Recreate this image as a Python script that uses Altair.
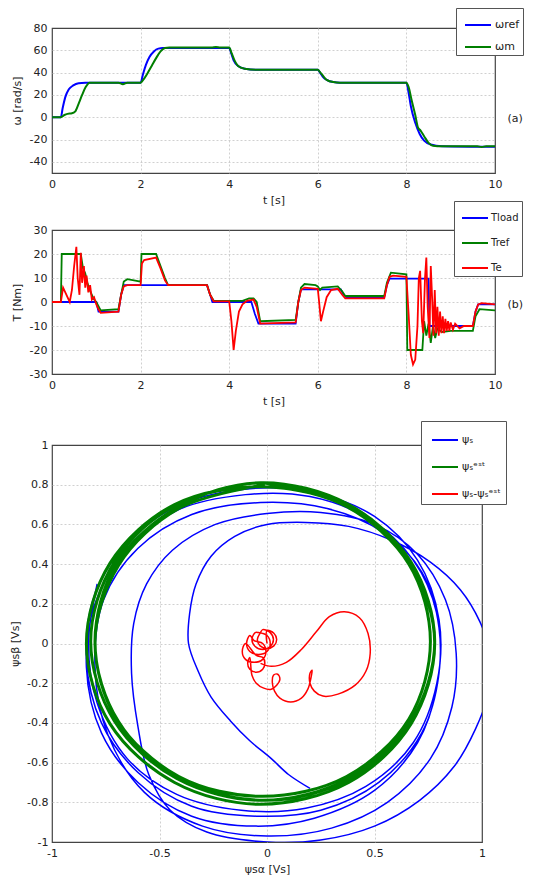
import altair as alt
import pandas as pd

FONT = "DejaVu Sans"
BLUE = "#0000ff"
GREEN = "#007f00"
RED = "#ff0000"
INK = "#222222"

# ---------------- panel (a): speed ----------------
wref_t = [0, 0.2, 0.24, 0.3, 0.38, 0.48, 0.6, 0.75, 2.0, 2.05, 2.12, 2.2, 2.3, 2.4, 2.5,
          4.0, 4.04, 4.1, 4.2, 4.35, 4.6, 6.0, 6.05, 6.12, 6.2, 6.35, 6.5,
          8.0, 8.05, 8.1, 8.2, 8.3, 8.4, 8.55, 8.8, 10]
wref_v = [0, 0, 8, 18, 25, 28.5, 30.5, 31, 31, 38, 47, 54, 59, 61.5, 62,
          62, 58, 51, 46, 43.5, 42.5, 42.5, 40, 36, 33.5, 31.5, 31,
          31, 22, 10, -5, -15, -21, -24.5, -26, -26.5]
wm_t = [0, 0.2, 0.28, 0.35, 0.45, 0.52, 0.6, 0.68, 0.76, 0.85, 1.5, 1.6, 1.7,
        2.0, 2.05, 2.15, 2.25, 2.35, 2.45, 2.55, 2.65, 3.6, 3.7, 3.8,
        4.0, 4.05, 4.12, 4.2, 4.35, 4.6, 6.0, 6.05, 6.12, 6.2, 6.35, 6.5,
        8.0, 8.05, 8.12, 8.2, 8.26, 8.32, 8.4, 8.5, 8.6, 8.8, 9.6, 9.7, 9.8, 10]
wm_v = [0, 0, 2, 3, 3.5, 5, 12, 20, 27, 31, 31, 29.5, 31,
        31, 33, 39, 46, 53, 59, 62, 62.5, 62.5, 63, 62.5,
        62.5, 58, 51, 46, 43.5, 42.5, 42.5, 40.5, 37, 33.5, 31.5, 31,
        31, 27, 15, 2, -9, -12, -17, -23, -25.5, -26, -26, -26.7, -26, -26]

# ---------------- panel (b): torque ----------------
tload_t = [0, 1.0, 1.05, 1.5, 1.56, 1.62, 3.5, 3.57, 3.62, 4.5, 4.58, 4.66, 5.5, 5.56, 5.62,
           6.52, 6.58, 6.64, 7.5, 7.56, 7.62, 8.5, 8.52, 9.5, 9.56, 9.62, 10]
tload_v = [0, 0, -4, -4, 3, 7, 7, 3, 0, 0, -5, -9, -9, 0, 5.3,
           5.3, 3, 2, 2, 7, 9.7, 9.7, -10, -10, -4, -1, -1]
tref_t = [0, 0.2, 0.22, 0.65, 0.7, 0.75, 0.8, 0.85, 0.9, 0.95, 1.0, 1.1, 1.5, 1.56, 1.62, 1.7,
          1.85, 2.0, 2.02, 2.35, 2.45, 2.55, 2.62, 3.5, 3.57, 3.65, 4.3, 4.45, 4.55, 4.62, 4.7,
          5.5, 5.56, 5.62, 5.7, 5.95, 6.0, 6.05, 6.1, 6.45, 6.55, 6.62, 7.5, 7.56, 7.65, 8.0,
          8.02, 8.36, 8.4, 8.45, 8.5, 8.55, 8.6, 8.65, 8.7, 8.8, 9.0, 9.5, 9.56, 9.65, 10]
tref_v = [0, 0, 20, 20, 14, 12, 8, 5, 3, 1, 0, -3.5, -3, 3, 8.5, 9.5,
          9, 8.5, 20, 20, 15, 10, 7, 7, 3, 0.5, 0.5, 1.5, 1.5, 0, -8,
          -7.5, 0, 6, 7.5, 7, 6.5, 5, 6, 6.5, 4.5, 2.5, 2.5, 8, 12.2, 11.5,
          -20, -20, -8, -14, -9, -17, -10, -15, -11, -12.5, -12, -12, -6, -3, -3.5]
te_t = [0, 0.2, 0.25, 0.3, 0.4, 0.45, 0.5, 0.55, 0.58, 0.62,
        0.65, 0.68, 0.72, 0.75, 0.78, 0.82, 0.86, 0.9, 0.95, 1.0,
        1.05, 1.1, 1.5, 1.56, 1.62, 1.7, 2.0, 2.03, 2.08, 2.35,
        2.45, 2.55, 2.62, 3.5, 3.57, 3.65, 4.0, 4.05, 4.1, 4.15,
        4.22, 4.3, 4.4, 4.55, 4.62, 4.7, 5.5, 5.56, 5.62, 5.7,
        6.0, 6.03, 6.07, 6.12, 6.2, 6.3, 6.45, 6.55, 6.62, 7.5,
        7.56, 7.62, 7.7, 8.0, 8.05, 8.1, 8.15, 8.2, 8.25, 8.28,
        8.31, 8.35, 8.38, 8.42, 8.45, 8.48, 8.52, 8.55, 8.58, 8.61,
        8.64, 8.67, 8.7, 8.73, 8.76, 8.79, 8.82, 8.85, 8.88, 8.91,
        8.94, 8.97, 9.0, 9.05, 9.1, 9.2, 9.3, 9.5, 9.56, 9.62,
        9.7, 10]
te_v = [0, 0, 6, 4, 0, 5, 15, 23, 10, 3,
        20.5, 8, 15, 6, 11, 4, 7, 1, 2, -1,
        -3, -4.5, -4, 3, 6.5, 7, 7, 16, 17.5, 18.5,
        14, 9, 7, 7, 3, 0.3, 0.3, -8, -20, -12,
        -4, -1, 0.5, 1, -2, -9, -8.5, 0, 5, 6,
        5.5, 0, -8, -4, 2, 5, 5.5, 3, 1.5, 1.5,
        7, 10.5, 11, 10.5, -5, -22, -26, -24, -10, 10,
        13, -8, -13, 10, 18.5, -2, -15, 15, 2, -14,
        5, -13, -2, -14, -4, -13, -6, -13, -7, -12,
        -8, -12, -8.5, -11.5, -9, -11, -10, -10, -4, -1,
        -0.5, -1]

# ---------------- panel (c): flux trajectories (alpha, beta) ----------------
psi_s_pts = [
    (0.20, -0.73), (0.10, -0.66), (0.02, -0.58), (-0.08, -0.49), (-0.17, -0.39), (-0.26, -0.27),
    (-0.32, -0.14), (-0.365, 0.0), (-0.36, 0.15), (-0.33, 0.30), (-0.26, 0.44), (-0.15, 0.54),
    (0.0, 0.60), (0.18, 0.61), (0.38, 0.59), (0.58, 0.52), (0.76, 0.41), (0.90, 0.27), (0.99, 0.11),
    (1.04, -0.06), (1.03, -0.25), (0.97, -0.43), (0.87, -0.62), (0.71, -0.79), (0.50, -0.92),
    (0.25, -0.99), (0.0, -1.0), (-0.28, -0.95), (-0.45, -0.84), (-0.55, -0.66), (-0.60, -0.42),
    (-0.63, -0.15), (-0.62, 0.1), (-0.56, 0.3), (-0.44, 0.47), (-0.24, 0.60), (0.0, 0.655), (0.25, 0.66),
    (0.5, 0.6), (0.7, 0.45), (0.83, 0.22), (0.88, -0.05), (0.86, -0.32), (0.76, -0.58), (0.56, -0.8),
    (0.3, -0.93), (0.0, -0.97), (-0.3, -0.92), (-0.57, -0.75), (-0.74, -0.46), (-0.8, -0.12),
    (-0.76, 0.22), (-0.6, 0.48), (-0.35, 0.65), (-0.03, 0.71), (0.28, 0.68), (0.54, 0.56), (0.72, 0.36),
    (0.8, 0.08), (0.79, -0.22), (0.7, -0.5), (0.5, -0.74), (0.22, -0.88), (-0.05, -0.92), (-0.35, -0.87),
    (-0.6, -0.7), (-0.77, -0.45), (-0.84, -0.12),
    (-0.8, 0.2), (-0.66, 0.47), (-0.42, 0.67), (-0.1, 0.75), (0.2, 0.74), (0.47, 0.63), (0.68, 0.42),
    (0.79, 0.15), (0.8, -0.15), (0.72, -0.45), (0.52, -0.7), (0.25, -0.84), (-0.05, -0.87), (-0.35, -0.82),
    (-0.6, -0.65), (-0.77, -0.4), (-0.84, -0.08),
    (-0.8, 0.25), (-0.64, 0.52), (-0.4, 0.7), (-0.08, 0.78), (0.22, 0.76), (0.5, 0.64), (0.7, 0.42),
    (0.8, 0.12), (0.79, -0.2), (0.68, -0.5), (0.46, -0.72), (0.18, -0.83), (-0.12, -0.84), (-0.42, -0.76),
    (-0.65, -0.58), (-0.79, -0.3), (-0.83, 0.0), (-0.79, 0.3),
]
psi_est_pts = [
    (-0.02, 0.81), (0.38, 0.70), (0.67, 0.41), (0.78, 0.01), (0.67, -0.39), (0.38, -0.68),
    (-0.02, -0.79), (-0.42, -0.68), (-0.71, -0.39), (-0.82, 0.01), (-0.71, 0.41), (-0.42, 0.70),
    (-0.02, 0.79), (0.37, 0.69), (0.66, 0.40), (0.76, 0.01), (0.66, -0.38), (0.37, -0.67),
    (-0.02, -0.77), (-0.41, -0.67), (-0.70, -0.38), (-0.80, 0.01), (-0.70, 0.40), (-0.41, 0.69),
    (-0.03, 0.81), (0.38, 0.70), (0.67, 0.405), (0.78, 0.0), (0.67, -0.405), (0.38, -0.70),
    (-0.03, -0.81), (-0.43, -0.70), (-0.73, -0.405), (-0.84, 0.0), (-0.73, 0.405), (-0.43, 0.70),
    (-0.01, 0.79), (0.39, 0.68), (0.67, 0.395), (0.78, 0.0), (0.67, -0.395), (0.39, -0.68),
    (-0.01, -0.79), (-0.41, -0.68), (-0.69, -0.395), (-0.80, 0.0), (-0.69, 0.395), (-0.41, 0.68),
    (-0.01, 0.80),
]
psi_err_pts = [
    (0.0, 0.0),
    (0.0, 0.065), (0.032, 0.052), (0.045, 0.02), (0.032, -0.012), (0.0, -0.025), (-0.032, -0.012),
    (-0.045, 0.02), (-0.032, 0.052),
    (-0.02, 0.07), (0.015, 0.055), (0.03, 0.02), (0.015, -0.015), (-0.02, -0.03), (-0.055, -0.015),
    (-0.07, 0.02), (-0.055, 0.055),
    (-0.04, 0.055), (0.0, 0.04), (0.015, 0.0), (0.0, -0.04), (-0.04, -0.055), (-0.08, -0.04),
    (-0.095, 0.0), (-0.08, 0.04),
    (-0.06, 0.015), (-0.02, 0.0), (-0.005, -0.04), (-0.02, -0.08), (-0.06, -0.095), (-0.1, -0.08),
    (-0.115, -0.04), (-0.1, 0.0),
    (-0.05, -0.06), (-0.02, -0.07), (-0.01, -0.1), (-0.02, -0.13), (-0.05, -0.145), (-0.08, -0.13),
    (-0.09, -0.1), (-0.08, -0.07),
    (-0.07, -0.16), (-0.05, -0.2), (-0.015, -0.225), (0.02, -0.23),
    (0.045, -0.21), (0.06, -0.18), (0.05, -0.155), (0.03, -0.16), (0.025, -0.2), (0.035, -0.24),
    (0.06, -0.275), (0.11, -0.295), (0.16, -0.275), (0.19, -0.23),
    (0.205, -0.17), (0.21, -0.135), (0.2, -0.15), (0.2, -0.2), (0.22, -0.24), (0.26, -0.265),
    (0.33, -0.255), (0.41, -0.21), (0.46, -0.14), (0.48, -0.05), (0.47, 0.05), (0.43, 0.13),
    (0.36, 0.16), (0.29, 0.135), (0.23, 0.06), (0.16, -0.03), (0.09, -0.095), (0.02, -0.115),
    (-0.03, -0.1),
]

T_TICKS = [0, 2, 4, 6, 8, 10]
W_TICKS = [-40, -20, 0, 20, 40, 60, 80]
TQ_TICKS = [-30, -20, -10, 0, 10, 20, 30]
PA_TICKS = [-1, -0.5, 0, 0.5, 1]
PB_TICKS = [-1, -0.8, -0.6, -0.4, -0.2, 0, 0.2, 0.4, 0.6, 0.8, 1]

LBL = "datum.value < 0 ? '-' + format(-datum.value, '~g') : format(datum.value, '~g')"
AX = dict(grid=True, gridColor="#c4c4c4", gridDash=[2, 2], gridWidth=0.8, ticks=False, domain=False,
          labelFont=FONT, labelFontSize=11, labelColor=INK, labelFlush=False, labelExpr=LBL,
          titleFont=FONT, titleFontSize=11, titleFontWeight="normal", titleColor=INK)


def grid_hide(lo, hi):
    # no dotted grid line on top of the solid frame at the domain ends
    return {"condition": {"test": f"datum.value <= {lo} || datum.value >= {hi}", "value": 0}, "value": 1}


def ts_frame(t, v, name):
    return pd.DataFrame({"t": t, "v": v, "series": name, "i": list(range(len(t)))})


def xy_frame(pts, name):
    return pd.DataFrame({"x": [p[0] for p in pts], "y": [p[1] for p in pts], "series": name,
                         "i": list(range(len(pts)))})


def legend(lx, ly, offset=5, lsize=11, loff=3, pad=3, rowpad=3):
    return alt.Legend(title=None, orient="none", legendX=lx, legendY=ly, symbolType="stroke",
                      symbolSize=676, symbolStrokeWidth=2, symbolOffset=offset, strokeColor="#555555",
                      fillColor="white", padding=pad, rowPadding=rowpad, labelFont=FONT,
                      labelFontSize=lsize, labelColor=INK, labelOffset=loff)


def tag_layer(df, xenc, dom, text, ty):
    return alt.Chart(df).mark_line(opacity=0).encode(
        x=xenc,
        y=alt.Y("v:Q", scale=alt.Scale(domain=dom, nice=False),
                axis=alt.Axis(orient="right", title=text, labels=False, ticks=False, domain=False,
                              grid=False, titleAngle=0, titleAlign="left", titleBaseline="middle",
                              titleX=12, titleY=ty, titleFont=FONT, titleFontSize=11,
                              titleFontWeight="normal", titleColor=INK)),
        detail="series:N")


x_time = alt.X("t:Q", scale=alt.Scale(domain=[0, 10], nice=False),
               axis=alt.Axis(values=T_TICKS, title="t [s]", labelPadding=5, titlePadding=5,
                             gridOpacity=grid_hide(0, 10), **AX))

# ---- (a)
A_DOM = ["ωref", "ωm"]
a_color = alt.Color("series:N", scale=alt.Scale(domain=A_DOM, range=[BLUE, GREEN]),
                    legend=legend(404, -20, rowpad=3))
a_y = alt.Y("v:Q", scale=alt.Scale(domain=[-50, 80], nice=False),
            axis=alt.Axis(values=W_TICKS, title="ω [rad/s]", labelPadding=5, titlePadding=7,
                          gridOpacity=grid_hide(-50, 80), **AX))


def a_line(t, v, name):
    return alt.Chart(ts_frame(t, v, name)).mark_line(
        strokeWidth=2, interpolate="monotone", clip=True).encode(
        x=x_time, y=a_y, color=a_color, order=alt.Order("i:Q"))


df_a = ts_frame(wref_t, wref_v, A_DOM[0])
panel_a = alt.layer(
    alt.layer(a_line(wref_t, wref_v, A_DOM[0]), a_line(wm_t, wm_v, A_DOM[1])),
    tag_layer(df_a, x_time, [-50, 80], "(a)", 90),
).resolve_scale(y="independent").properties(width=443, height=145)

# ---- (b)
B_DOM = ["Tload", "Tref", "Te"]
b_color = alt.Color("series:N", scale=alt.Scale(domain=B_DOM, range=[BLUE, GREEN, RED]),
                    legend=legend(402, -29, 4, 10, 2, pad=3, rowpad=6))
b_y = alt.Y("v:Q", scale=alt.Scale(domain=[-30, 30], nice=False),
            axis=alt.Axis(values=TQ_TICKS, title="T [Nm]", labelPadding=5, titlePadding=7,
                          gridOpacity=grid_hide(-30, 30), **AX))


def b_line(t, v, name):
    return alt.Chart(ts_frame(t, v, name)).mark_line(strokeWidth=1.8, clip=True).encode(
        x=x_time, y=b_y, color=b_color, order=alt.Order("i:Q"))


df_b = ts_frame(tload_t, tload_v, B_DOM[0])
panel_b = alt.layer(
    alt.layer(b_line(tload_t, tload_v, B_DOM[0]), b_line(tref_t, tref_v, B_DOM[1]),
              b_line(te_t, te_v, B_DOM[2])),
    tag_layer(df_b, x_time, [-30, 30], "(b)", 74),
).resolve_scale(y="independent").properties(width=443, height=144)

# ---- (c)
C_DOM = ["ψₛ", "ψₛᵉˢᵗ", "ψₛ-ψₛᵉˢᵗ"]
x_alpha = alt.X("x:Q", scale=alt.Scale(domain=[-1, 1], nice=False),
                axis=alt.Axis(values=PA_TICKS, title="ψsα [Vs]", labelPadding=5, titlePadding=5,
                              gridOpacity=grid_hide(-1, 1), **AX))
y_beta = alt.Y("y:Q", scale=alt.Scale(domain=[-1, 1], nice=False),
               axis=alt.Axis(values=PB_TICKS, title="ψsβ [Vs]", labelPadding=4, titlePadding=6,
                             gridOpacity=grid_hide(-1, 1), **AX))
c_color = alt.Color("series:N", scale=alt.Scale(domain=C_DOM, range=[BLUE, GREEN, RED]),
                    legend=legend(369, -24, 5, pad=5, rowpad=8))


def traj(pts, name, width):
    return alt.Chart(xy_frame(pts, name)).mark_line(
        strokeWidth=width, interpolate="catmull-rom", clip=True).encode(
        x=x_alpha, y=y_beta, color=c_color, order=alt.Order("i:Q"))


panel_c = alt.layer(traj(psi_s_pts, C_DOM[0], 1.5), traj(psi_est_pts, C_DOM[1], 3),
                    traj(psi_err_pts, C_DOM[2], 1.5)).properties(
    width=430, height=397,
    title=alt.TitleParams(" ", fontSize=12, offset=6, anchor="start"))

chart = alt.vconcat(panel_a, panel_b, panel_c, spacing=-7).resolve_scale(
    color="independent").properties(
    padding={"top": -2, "bottom": 0, "left": 0, "right": 0}).configure_view(
    stroke="#444444", strokeWidth=1.2)

chart.save("out.html", embed_options={"renderer": "svg", "actions": False})
